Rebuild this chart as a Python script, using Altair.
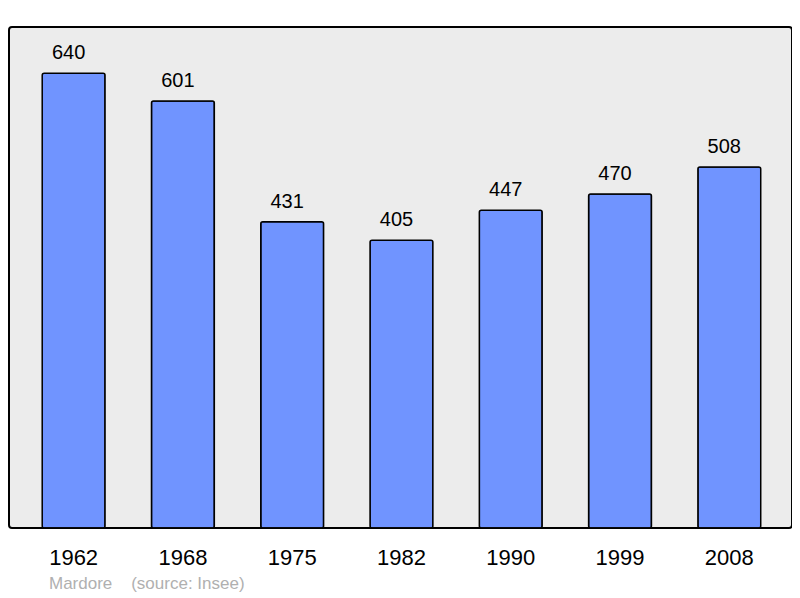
import altair as alt
import pandas as pd

years = ["1962", "1968", "1975", "1982", "1990", "1999", "2008"]
population = [640, 601, 431, 405, 447, 470, 508]

df = pd.DataFrame({"year": years, "pop": population})

x = alt.X("year:N", sort=years, title=None,
          scale=alt.Scale(paddingInner=0.425, paddingOuter=0.295, align=0.515),
          axis=alt.Axis(labelAngle=0, labelFontSize=22, labelFont="Liberation Sans",
                        labelColor="#000000", labelPadding=19, ticks=False, domain=False))
y = alt.Y("pop:Q", title=None, scale=alt.Scale(domain=[0, 705], nice=False),
          axis=None)

bars = alt.Chart(df).mark_bar(color="#7094ff", stroke="#000000", strokeWidth=1.5,
                              cornerRadius=2).encode(x=x, y=y)
labels = alt.Chart(df).mark_text(baseline="alphabetic", dy=-14, dx=-5, fontSize=20,
                                 font="Liberation Sans", color="#000000").encode(
    x=x, y=y, text="pop:Q")

source_text = "Mardore\u00a0\u00a0\u00a0\u00a0(source: Insee)"

chart = (bars + labels).properties(
    width=783, height=501,
    autosize=alt.AutoSizeParams(type="none"),
    padding={"left": 1, "top": 19, "right": 0, "bottom": 70},
    title=alt.TitleParams(source_text, orient="bottom", anchor="start",
                          frame="group", dx=40, offset=8, fontSize=17,
                          font="Liberation Sans", fontWeight="normal", color="#b0b0b0"),
).configure(
    background="#ffffff"
).configure_view(
    fill="#ececec", stroke="#000000", strokeWidth=2, cornerRadius=3
)

chart.save("out.html", embed_options={"renderer": "svg", "actions": False})
